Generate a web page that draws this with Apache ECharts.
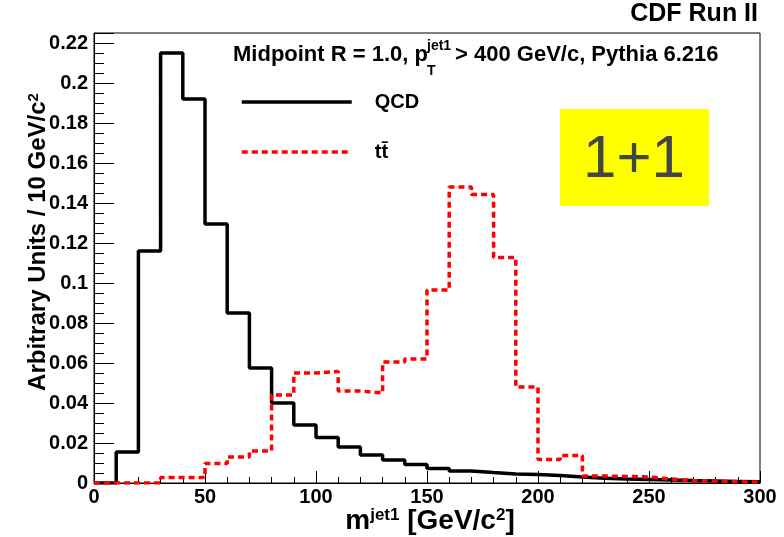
<!DOCTYPE html>
<html>
<head>
<meta charset="utf-8">
<script src="https://cdn.jsdelivr.net/npm/echarts@6/dist/echarts.min.js"></script>
<style>
  html, body { margin: 0; padding: 0; background: #fff; }
  #jet_mass { width: 784px; height: 537px; }
</style>
</head>
<body>
<div id="jet_mass"></div>
<script>
// leading jet mass, QCD vs ttbar (10 GeV/c^2 bins, 0-300)

var binWidth = 10;
var binLow = [0, 10, 20, 30, 40, 50, 60, 70, 80, 90, 100, 110, 120, 130, 140,
  150, 160, 170, 180, 190, 200, 210, 220, 230, 240, 250, 260, 270, 280, 290];

var qcd = [0, 0.0155, 0.116, 0.215, 0.192, 0.1295, 0.085, 0.0575, 0.040, 0.029,
  0.0228, 0.018, 0.014, 0.0115, 0.0093, 0.0073, 0.006, 0.0052, 0.0045, 0.0042,
  0.0037, 0.003, 0.0024, 0.002, 0.0018, 0.0015, 0.0012, 0.001, 0.0008, 0.0006];

var ttbar = [0, 0, 0, 0.0027, 0.0027, 0.0098, 0.013, 0.016, 0.044, 0.055,
  0.0557, 0.046, 0.045, 0.0605, 0.062, 0.0965, 0.148, 0.1443, 0.1128, 0.048,
  0.0118, 0.0137, 0.0035, 0.0033, 0.003, 0.002, 0.0012, 0.001, 0.0006, 0.0005];

var seriesNames = ['QCD', 't\u0074\u0304'];

// step points: left edge of every bin, plus the right edge of the last one
function histPoints(vals) {
  var pts = binLow.map(function (x, i) { return [x, vals[i]]; });
  pts.push([binLow[binLow.length - 1] + binWidth, vals[vals.length - 1]]);
  return pts;
}

var dom = document.getElementById('jet_mass');
var myChart = echarts.init(dom);
var font = '"Liberation Sans", Arial, Helvetica, sans-serif';

var option = {
  animation: false,
  textStyle: { fontFamily: font },
  grid: {
    left: 94, right: 24, top: 33, bottom: 54,
    show: true, borderColor: '#000', borderWidth: 1
  },
  legend: {
    data: seriesNames,
    orient: 'vertical',
    left: 240, top: 92,
    padding: 0,
    itemWidth: 110, itemHeight: 24, itemGap: 30,
    itemStyle: { color: 'rgba(0,0,0,0)', borderColor: 'rgba(0,0,0,0)', borderWidth: 0 },
    lineStyle: { width: 3.5 },
    textStyle: { fontSize: 20, fontWeight: 'bold', color: '#000', padding: [0, 0, 0, 18] }
  },
  xAxis: {
    type: 'value',
    min: 0, max: 300, interval: 50,
    axisLine: { lineStyle: { color: '#000', width: 1 } },
    axisTick: { inside: true, length: 12, lineStyle: { color: '#000' } },
    minorTick: { show: true, splitNumber: 5, length: 6, lineStyle: { color: '#000' } },
    splitLine: { show: false },
    axisLabel: { fontSize: 20, fontWeight: 'bold', color: '#000', margin: 4 }
  },
  yAxis: {
    type: 'value',
    min: 0, max: 0.225, interval: 0.02,
    axisLine: { show: true, lineStyle: { color: '#000', width: 1 } },
    axisTick: { inside: true, length: 20, lineStyle: { color: '#000' } },
    minorTick: { show: true, splitNumber: 4, length: 10, lineStyle: { color: '#000' } },
    splitLine: { show: false },
    axisLabel: {
      fontSize: 20, fontWeight: 'bold', color: '#000', margin: 6,
      showMaxLabel: false,
      formatter: function (v) { return String(Math.round(v * 1000) / 1000); }
    }
  },
  graphic: [
    {
      type: 'text', x: 758, y: 27,
      style: { text: 'CDF Run II', font: 'bold 25px ' + font, fill: '#000', align: 'right', verticalAlign: 'bottom' }
    },
    {
      type: 'text', x: 233, y: 55,
      style: { text: 'Midpoint R = 1.0, p', font: 'bold 22px ' + font, fill: '#000', align: 'left', verticalAlign: 'middle' }
    },
    {
      type: 'text', x: 427, y: 46,
      style: { text: 'jet1', font: 'bold 14px ' + font, fill: '#000', align: 'left', verticalAlign: 'middle' }
    },
    {
      type: 'text', x: 427, y: 71,
      style: { text: 'T', font: 'bold 14px ' + font, fill: '#000', align: 'left', verticalAlign: 'middle' }
    },
    {
      type: 'text', x: 455, y: 55,
      style: { text: '> 400 GeV/c, Pythia 6.216', font: 'bold 22px ' + font, fill: '#000', align: 'left', verticalAlign: 'middle' }
    },
    {
      type: 'rect', shape: { x: 560, y: 109, width: 149, height: 97 },
      style: { fill: '#ffff00' }
    },
    {
      type: 'text', x: 634, y: 160,
      style: { text: '1+1', font: '60px ' + font, fill: '#444', align: 'center', verticalAlign: 'middle' }
    },
    {
      type: 'text', x: 38, y: 242, rotation: Math.PI / 2,
      style: {
        text: 'Arbitrary Units / 10 GeV/c{sup|2}',
        font: 'bold 24px ' + font, fill: '#000', align: 'center', verticalAlign: 'middle',
        rich: { sup: { fontSize: 15, fontWeight: 'bold', fontFamily: font, verticalAlign: 'top', fill: '#000' } }
      }
    },
    {
      type: 'text', x: 430, y: 521,
      style: {
        text: 'm{sup|jet1} [GeV/c{sup|2}]',
        font: 'bold 28px ' + font, fill: '#000', align: 'center', verticalAlign: 'middle',
        rich: { sup: { fontSize: 17, fontWeight: 'bold', fontFamily: font, verticalAlign: 'top', fill: '#000' } }
      }
    }
  ],
  series: [
    {
      name: seriesNames[0],
      type: 'line',
      step: 'end',
      symbol: 'none',
      data: histPoints(qcd),
      lineStyle: { color: '#000', width: 3.5 },
      itemStyle: { color: '#000' }
    },
    {
      name: seriesNames[1],
      type: 'line',
      step: 'end',
      symbol: 'none',
      data: histPoints(ttbar),
      lineStyle: { color: '#ff0000', width: 3.5, type: [6, 4] },
      itemStyle: { color: '#ff0000' }
    }
  ]
};

if (option && typeof option === 'object') {
  myChart.setOption(option);
}
</script>
</body>
</html>
